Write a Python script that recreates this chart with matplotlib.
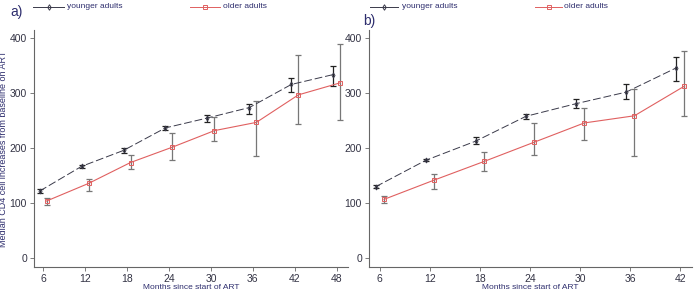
import matplotlib
matplotlib.use("Agg")
import matplotlib.pyplot as plt
import numpy as np
from matplotlib.font_manager import fontManager

names = {f.name for f in fontManager.ttflist}
fam = ["Liberation Sans Narrow"] if "Liberation Sans Narrow" in names else ["Liberation Sans"]
plt.rcParams["font.family"] = fam + ["DejaVu Sans"]

# Panel a
months_a = [6, 12, 18, 24, 30, 36, 42, 48]
young_a = [122, 167, 196, 237, 255, 274, 316, 334]
young_a_lo = [119, 164, 192, 233, 248, 262, 302, 313]
young_a_hi = [125, 170, 200, 241, 260, 281, 328, 350]
old_a = [104, 136, 174, 202, 232, 247, 297, 319]
old_a_lo = [97, 122, 162, 179, 213, 186, 244, 252]
old_a_hi = [110, 144, 188, 227, 256, 286, 369, 390]

# Panel b
months_b = [6, 12, 18, 24, 30, 36, 42]
young_b = [130, 178, 213, 258, 281, 302, 346]
young_b_lo = [127, 176, 208, 254, 273, 290, 322]
young_b_hi = [133, 181, 220, 263, 290, 316, 365]
old_b = [107, 142, 176, 211, 246, 259, 313]
old_b_lo = [101, 125, 159, 187, 215, 186, 258]
old_b_hi = [113, 154, 193, 245, 274, 308, 376]

yticks = [0, 100, 200, 300, 400]

fig = plt.figure(figsize=(6.95, 2.94), dpi=100)
ax1 = fig.add_axes([34/695, 1-267/294, 314/695, 237/294])
ax2 = fig.add_axes([369/695, 1-267/294, 323/695, 237/294])

txt = "#2e2e6e"
red = "#e06060"
dark = "#3a3a4a"

def draw(ax, months, y, ylo, yhi, o, olo, ohi, xlim):
    m = np.array(months, dtype=float)
    y = np.array(y); o = np.array(o)
    ax.errorbar(m - 0.5, y, yerr=[y - np.array(ylo), np.array(yhi) - y],
                fmt="none", ecolor="#222222", elinewidth=0.9, capsize=2.5, capthick=0.9, zorder=2)
    ax.errorbar(m + 0.5, o, yerr=[o - np.array(olo), np.array(ohi) - o],
                fmt="none", ecolor="#777777", elinewidth=0.9, capsize=2.5, capthick=0.9, zorder=2)
    ax.plot(m - 0.5, y, color=dark, lw=0.7, dashes=(8, 3), marker="d", ms=2.5,
            mfc="none", mec=dark, mew=0.7, zorder=3)
    ax.plot(m + 0.5, o, color=red, lw=0.8, marker="s", ms=3.5,
            mfc="none", mec=red, mew=0.7, zorder=3)
    ax.set_xlim(*xlim)
    ax.set_ylim(-16, 415)
    ax.set_xticks(months)
    ax.set_yticks(yticks)
    for s in ["top", "right"]:
        ax.spines[s].set_visible(False)
    for s in ["left", "bottom"]:
        ax.spines[s].set_color("#666666")
        ax.spines[s].set_linewidth(0.8)
    ax.tick_params(colors="#666666", labelcolor="#333344", labelsize=7.5, length=3, width=0.6, pad=2)
    ax.set_xlabel("Months since start of ART", fontsize=6, color=txt, labelpad=0)

draw(ax1, months_a, young_a, young_a_lo, young_a_hi, old_a, old_a_lo, old_a_hi, (4.7, 49.6))
draw(ax2, months_b, young_b, young_b_lo, young_b_hi, old_b, old_b_lo, old_b_hi, (4.7, 43.4))

ax1.set_ylabel("Median CD4 cell increases from baseline on ART", fontsize=6.5, color=txt,
               family=["Liberation Sans", "DejaVu Sans"])
ax1.yaxis.set_label_coords(-26/314, 0.5)

fig.text(10/695, 1-12/294, "a)", fontsize=10, color=txt, va="center", ha="left",
         family=["Liberation Sans", "DejaVu Sans"])
fig.text(363/695, 1-21/294, "b)", fontsize=10, color=txt, va="center", ha="left",
         family=["Liberation Sans", "DejaVu Sans"])

# legends
def leg(x0, x1, y, color, marker, label, xt):
    fy = 1 - y/294
    l = matplotlib.lines.Line2D([x0/695, x1/695], [fy, fy], transform=fig.transFigure,
                                color=color, lw=0.7, ls="-")
    fig.add_artist(l)
    fig.add_artist(matplotlib.lines.Line2D([(x0+x1)/2/695], [fy], transform=fig.transFigure,
                                           color=color, marker=marker, ms=2.8 if marker=="d" else 3.5,
                                           mfc="none", mec=color, mew=0.7, ls="none"))
    fig.text(xt/695, fy, label, fontsize=6, color=txt, va="center", ha="left")

leg(33, 64, 7, dark, "d", "younger adults", 67)
leg(190, 220, 7, red, "s", "older adults", 223)
leg(370, 398, 7, dark, "d", "younger adults", 402)
leg(535, 562, 7, red, "s", "older adults", 564)

fig.savefig("out.png", dpi=100)
